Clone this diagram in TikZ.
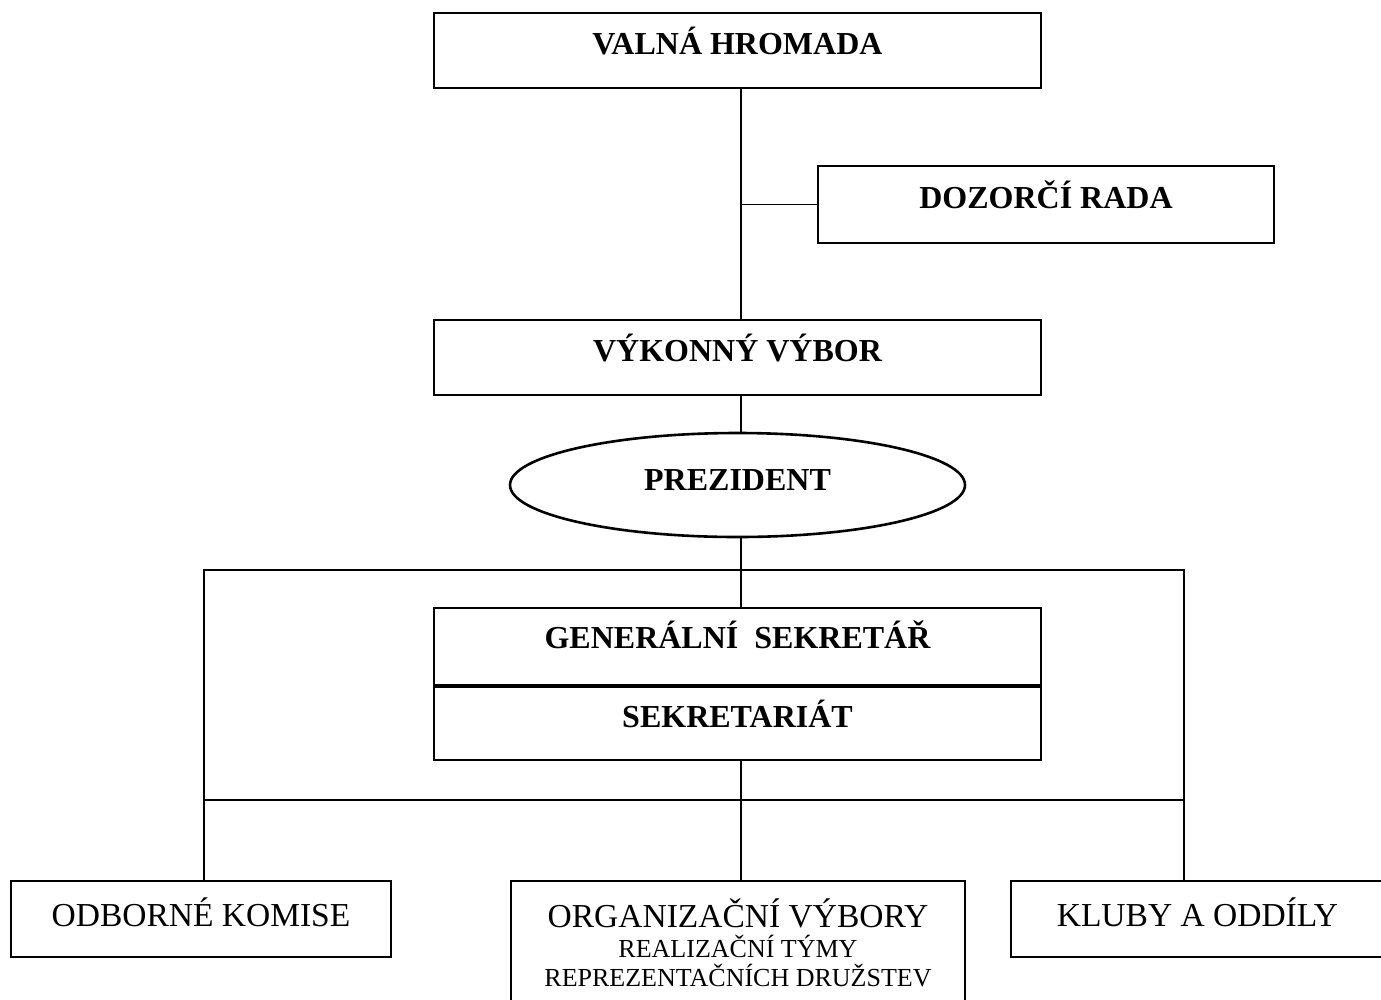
\documentclass[tikz,border=0pt]{standalone}
\usepackage{fontspec}
\setmainfont{Liberation Serif}
\usetikzlibrary{shapes.geometric}
\begin{document}
\begin{tikzpicture}[x=1pt,y=-1pt,
  box/.style={draw, line width=2.2pt, rectangle, inner sep=0pt, text height=22pt},
  bf/.style={font=\fontsize{32}{36}\selectfont\bfseries},
  rm/.style={font=\fontsize{33.5}{38}\selectfont},
  sm/.style={font=\fontsize{26}{29}\selectfont},
  conn/.style={line width=1.5pt}]
\useasboundingbox (0,0) rectangle (1381,999);
\fill[white] (0,0) rectangle (1381,999);

\node[box,bf,minimum width=607pt,minimum height=75pt,text depth=15pt] (vh) at (737.5,50.5) {VALNÁ HROMADA};
\node[box,bf,minimum width=456pt,minimum height=77pt,text depth=15pt] (dz) at (1046,204.5) {DOZORČÍ RADA};
\node[box,bf,minimum width=607pt,minimum height=75pt,text depth=15pt] (vv) at (737.5,357.5) {VÝKONNÝ VÝBOR};
\node[draw,ellipse,line width=2.6pt,inner sep=0pt,bf,text height=22pt,text depth=12pt,minimum width=455pt,minimum height=104pt] (pr) at (737.5,485) {PREZIDENT};
\node[box,bf,minimum width=607pt,minimum height=77pt,text depth=19pt] (gs) at (737.5,646.5) {GENERÁLNÍ~~SEKRETÁŘ};
\node[box,bf,minimum width=607pt,minimum height=75pt,text depth=13pt] (sk) at (737.5,722.5) {SEKRETARIÁT};
\draw[line width=3.4pt] (gs.south west) -- (gs.south east);

\node[box,rm,minimum width=380pt,minimum height=76pt,text depth=8pt] (ok) at (201,919) {ODBORNÉ KOMISE};
\node[box,rm,minimum width=373pt,minimum height=76pt,text depth=8pt] (kl) at (1197.5,919) {KLUBY A ODDÍLY};
\node[box,rm,minimum width=454pt,minimum height=140pt,text depth=70pt] (og) at (738,951) {ORGANIZAČNÍ VÝBORY};
\node[sm,anchor=base,inner sep=0pt] (og2) at (738,957) {REALIZAČNÍ TÝMY};
\node[sm,anchor=base,inner sep=0pt] (og3) at (738,986) {REPREZENTAČNÍCH DRUŽSTEV};

\coordinate (sp) at (741,0);
\coordinate (bt) at (204,570);
\coordinate (br) at (1184,800);

\draw[conn] (vh.south -| sp) -- (vv.north -| sp);
\draw[conn] (dz.west) -- (dz.west -| sp);
\draw[conn] (vv.south -| sp) -- (pr.north -| sp);
\draw[conn] (pr.south -| sp) -- (sp |- bt);
\draw[conn] (bt |- ok.north) -- (bt) -- (br |- bt) -- (br |- kl.north);
\draw[conn] (bt |- br) -- (br);
\draw[conn] (sp |- bt) -- (gs.north -| sp);
\draw[conn] (sk.south -| sp) -- (og.north -| sp);
\end{tikzpicture}
\end{document}
